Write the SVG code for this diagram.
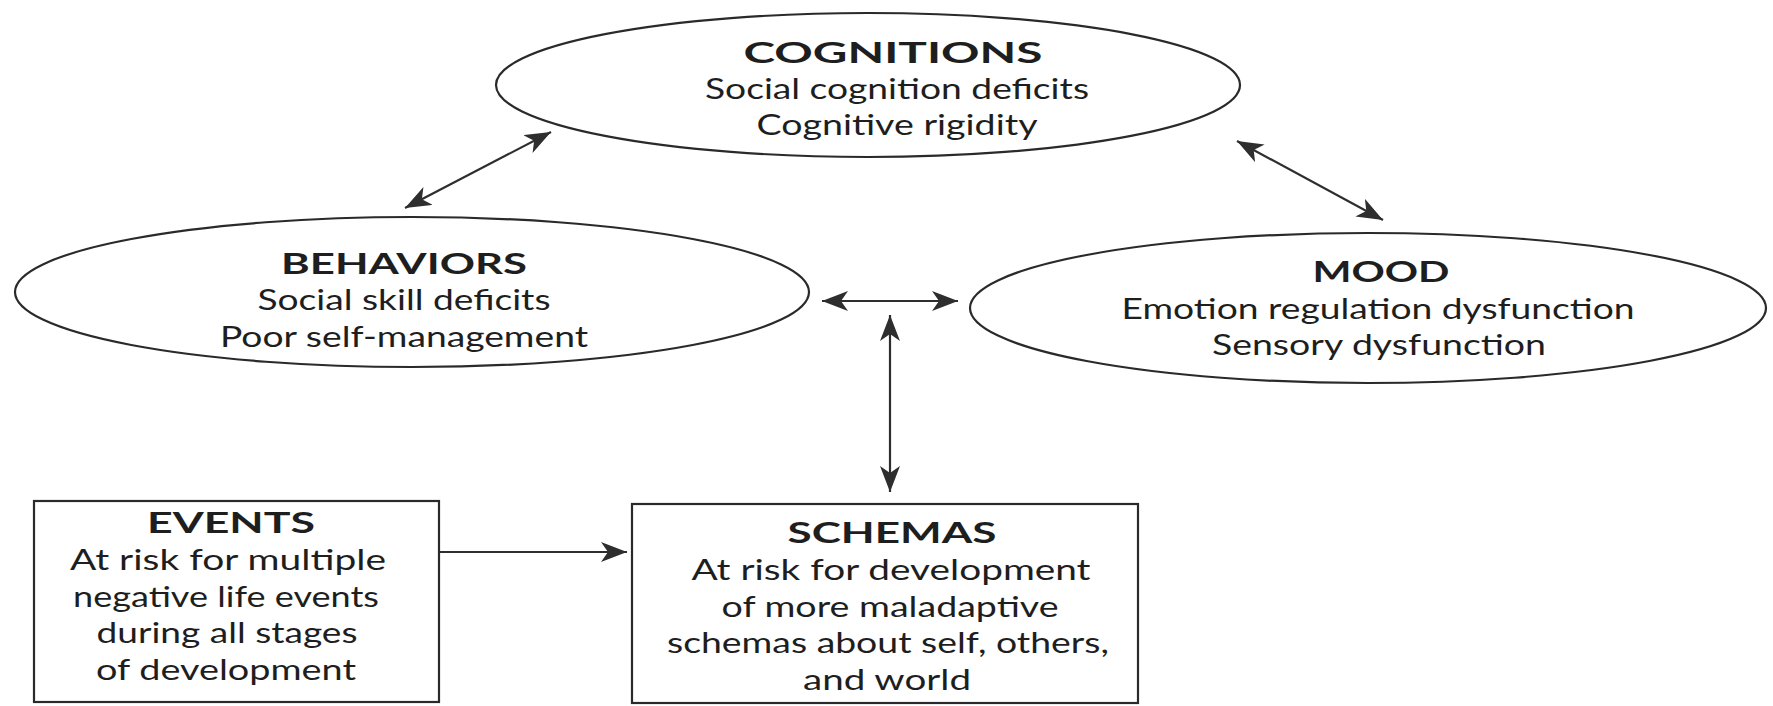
<svg xmlns="http://www.w3.org/2000/svg" width="1773" height="706" viewBox="0 0 1773 706">
  <style>
    .shape { fill: #ffffff; stroke: #2a2a2a; stroke-width: 2.2; }
    .link { stroke: #2e2e2e; stroke-width: 2.2; fill: none; }
    text { font-family: "Lato", "Liberation Sans", sans-serif; font-size: 28px; fill: #1e1e1e; text-anchor: middle; }
    .head { font-weight: bold; }
  </style>
  <defs>
    <marker id="tip" markerUnits="userSpaceOnUse" markerWidth="28" markerHeight="22" refX="26" refY="10" orient="auto-start-reverse">
      <path d="M0,0 L26,10 L0,20 L7,10 z" fill="#2e2e2e"/>
    </marker>
  </defs>
  <rect width="1773" height="706" fill="#ffffff"/>

  <g id="connectors">
    <line class="link" x1="551" y1="132" x2="405" y2="208" marker-start="url(#tip)" marker-end="url(#tip)"/>
    <line class="link" x1="1237" y1="141" x2="1383" y2="220" marker-start="url(#tip)" marker-end="url(#tip)"/>
    <line class="link" x1="822" y1="301" x2="958" y2="301" marker-start="url(#tip)" marker-end="url(#tip)"/>
    <line class="link" x1="890" y1="315" x2="890" y2="492" marker-start="url(#tip)" marker-end="url(#tip)"/>
    <line class="link" x1="439" y1="552" x2="627" y2="552" marker-end="url(#tip)"/>
  </g>

  <g id="cognitions">
    <ellipse class="shape" cx="868" cy="85" rx="372" ry="72"/>
    <text class="head" x="893" y="63" textLength="299" lengthAdjust="spacingAndGlyphs">COGNITIONS</text>
    <text x="897" y="99" textLength="384" lengthAdjust="spacingAndGlyphs">Social cognition deficits</text>
    <text x="897" y="135" textLength="281" lengthAdjust="spacingAndGlyphs">Cognitive rigidity</text>
  </g>

  <g id="behaviors">
    <ellipse class="shape" cx="412" cy="292" rx="397" ry="75"/>
    <text class="head" x="404" y="274" textLength="246" lengthAdjust="spacingAndGlyphs">BEHAVIORS</text>
    <text x="404" y="310" textLength="293" lengthAdjust="spacingAndGlyphs">Social skill deficits</text>
    <text x="404" y="347" textLength="368" lengthAdjust="spacingAndGlyphs">Poor self-management</text>
  </g>

  <g id="mood">
    <ellipse class="shape" cx="1368" cy="308" rx="398" ry="75"/>
    <text class="head" x="1381" y="282" textLength="137" lengthAdjust="spacingAndGlyphs">MOOD</text>
    <text x="1378" y="319" textLength="513" lengthAdjust="spacingAndGlyphs">Emotion regulation dysfunction</text>
    <text x="1379" y="355" textLength="334" lengthAdjust="spacingAndGlyphs">Sensory dysfunction</text>
  </g>

  <g id="events">
    <rect class="shape" x="34" y="501" width="405" height="201"/>
    <text class="head" x="231" y="533" textLength="168" lengthAdjust="spacingAndGlyphs">EVENTS</text>
    <text x="228" y="570" textLength="316" lengthAdjust="spacingAndGlyphs">At risk for multiple</text>
    <text x="226" y="607" textLength="306" lengthAdjust="spacingAndGlyphs">negative life events</text>
    <text x="227" y="643" textLength="261" lengthAdjust="spacingAndGlyphs">during all stages</text>
    <text x="226" y="680" textLength="260" lengthAdjust="spacingAndGlyphs">of development</text>
  </g>

  <g id="schemas">
    <rect class="shape" x="632" y="504" width="506" height="199"/>
    <text class="head" x="892" y="543" textLength="209" lengthAdjust="spacingAndGlyphs">SCHEMAS</text>
    <text x="891" y="580" textLength="399" lengthAdjust="spacingAndGlyphs">At risk for development</text>
    <text x="890" y="617" textLength="337" lengthAdjust="spacingAndGlyphs">of more maladaptive</text>
    <text x="888" y="653" textLength="442" lengthAdjust="spacingAndGlyphs">schemas about self, others,</text>
    <text x="887" y="690" textLength="168" lengthAdjust="spacingAndGlyphs">and world</text>
  </g>
</svg>
